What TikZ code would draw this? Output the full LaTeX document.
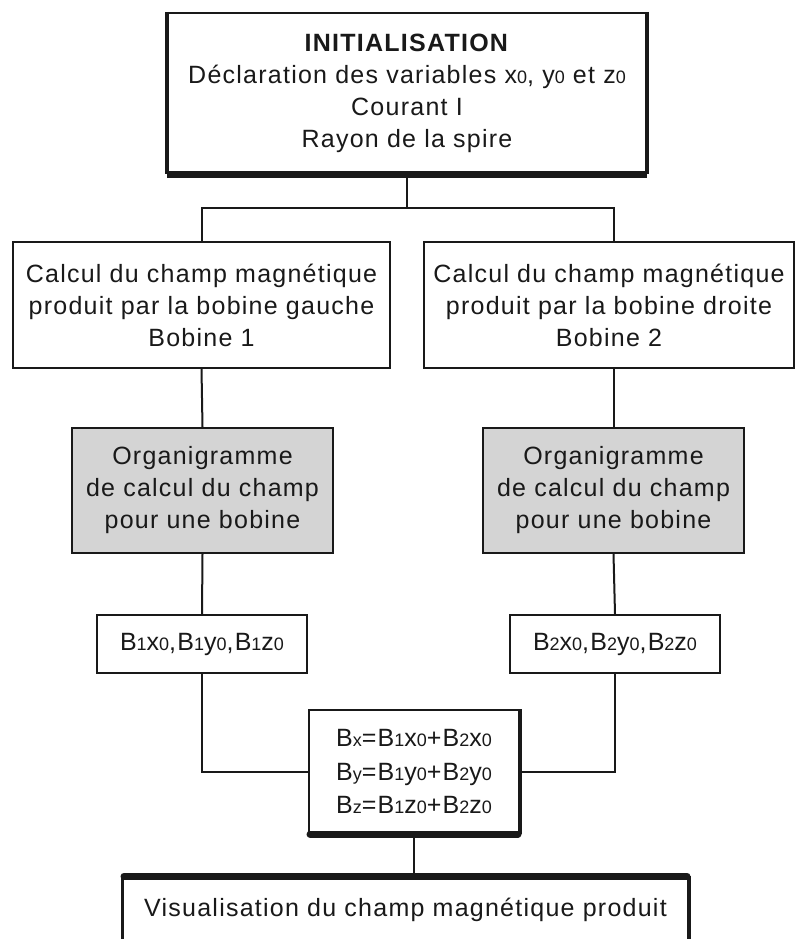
\documentclass[tikz,border=0pt]{standalone}
\usepackage{fontspec}
\setmainfont{Liberation Sans}[LetterSpace=5]
\usetikzlibrary{calc}
\newcommand\sbs[1]{{\fontsize{18}{18}\selectfont #1}}
\definecolor{boxgray}{RGB}{212,212,212}
\definecolor{ink}{RGB}{25,25,25}
\begin{document}
\begin{tikzpicture}[x=1pt,y=-1pt,
  box/.style={draw=ink, line width=2pt, align=center, inner sep=0pt, text=ink,
    font=\fontsize{25}{32}\selectfont},
  graybox/.style={box, fill=boxgray},
  link/.style={draw=ink, line width=2pt},
  heavy/.style={draw=ink, line width=#1}]
\useasboundingbox (0,0) rectangle (795,939);
\fill[white] (0,0) rectangle (795,939);
\clip (0,0) rectangle (795,939);

% nodes
\node[box, minimum width=478pt, minimum height=160pt] (init) at (407,93)
  {\textbf{INITIALISATION}\\
   Déclaration des variables x\sbs{0}, y\sbs{0} et z\sbs{0}\\
   Courant I\\
   Rayon de la spire};
\node[box, minimum width=377pt, minimum height=126pt] (calc1) at (201.5,305)
  {Calcul du champ magnétique\\ produit par la bobine gauche\\ Bobine 1};
\node[box, minimum width=370pt, minimum height=126pt] (calc2) at (609,305)
  {Calcul du champ magnétique\\ produit par la bobine droite\\ Bobine 2};
\node[graybox, minimum width=261pt, minimum height=125pt] (org1) at (202.5,490.5)
  {Organigramme\\ de calcul du champ\\ pour une bobine};
\node[graybox, minimum width=261pt, minimum height=125pt] (org2) at (613.5,490.5)
  {Organigramme\\ de calcul du champ\\ pour une bobine};
\node[box, minimum width=210pt, minimum height=58pt] (b1) at (202,644)
  {B\sbs{1}x\sbs{0},B\sbs{1}y\sbs{0},B\sbs{1}z\sbs{0}};
\node[box, minimum width=210pt, minimum height=58pt] (b2) at (615,644)
  {B\sbs{2}x\sbs{0},B\sbs{2}y\sbs{0},B\sbs{2}z\sbs{0}};
\node[box, minimum width=210pt, minimum height=123pt, font=\fontsize{25}{33.5}\selectfont] (sum) at (414,771.5)
  {B\sbs{x}=B\sbs{1}x\sbs{0}+B\sbs{2}x\sbs{0}\\
   B\sbs{y}=B\sbs{1}y\sbs{0}+B\sbs{2}y\sbs{0}\\
   B\sbs{z}=B\sbs{1}z\sbs{0}+B\sbs{2}z\sbs{0}};
\node[box, minimum width=565pt, minimum height=66pt] (vis) at (405.5,910)
  {Visualisation du champ magnétique produit};

% heavy edges
\draw[heavy=7pt] (init.south west) -- (init.south east);
\draw[heavy=4pt] (init.north west) -- (init.south west);
\draw[heavy=4pt] (init.north east) -- (init.south east);
\draw[heavy=7pt, line cap=round] ($(sum.south west)+(2,0)$) -- ($(sum.south east)+(-2,0)$);
\draw[heavy=3pt] (sum.north east) -- (sum.south east);
\draw[heavy=7pt, line cap=round] ($(vis.north west)+(2,0)$) -- ($(vis.north east)+(-2,0)$);
\draw[heavy=3pt] (vis.north west) -- (vis.south west);
\draw[heavy=3pt] (vis.north east) -- (vis.south east);

% connectors
\coordinate (split) at (407,208);
\draw[link] (init.south) -- (split);
\draw[link] (split) -| (calc1.north);
\draw[link] (split) -| (org2.north |- calc2.north);
\draw[link] (calc1.south) -- (org1.north);
\draw[link] (org2.north |- calc2.south) -- (org2.north);
\draw[link] (org1.south) -- (b1.north);
\draw[link] (org2.south) -- (b2.north);
\draw[link] (b1.south) |- (sum.west);
\draw[link] (b2.south) |- (sum.east);
\draw[link] (sum.south) -- (sum.south |- vis.north);
\end{tikzpicture}
\end{document}
